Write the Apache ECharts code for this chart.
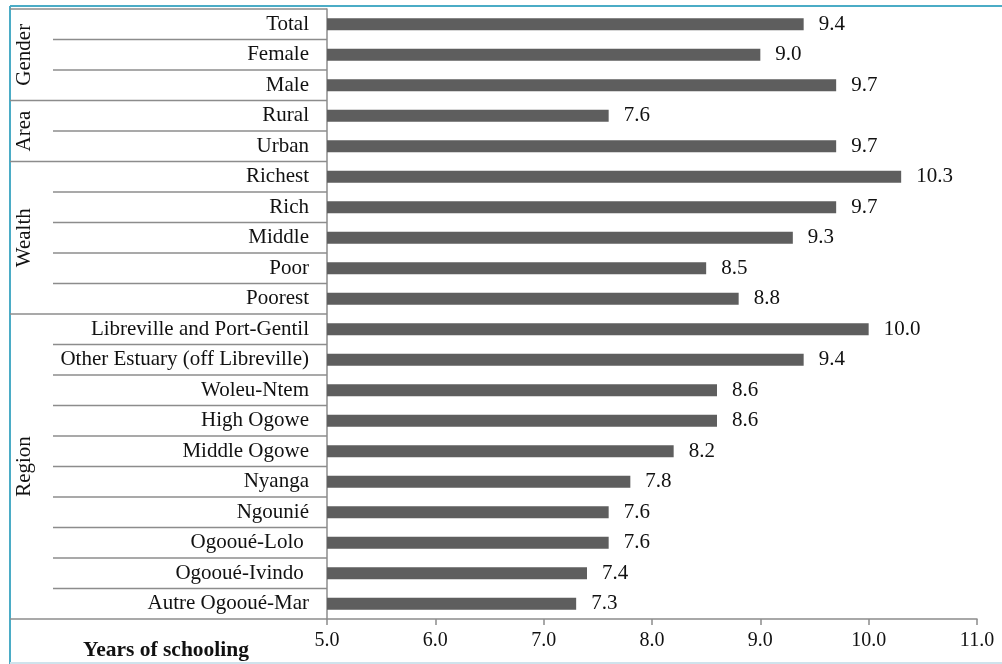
<!DOCTYPE html>
<html>
<head>
<meta charset="utf-8">
<style>
  html, body { margin: 0; padding: 0; background: #ffffff; }
  #chart { width: 1002px; height: 664px; }
</style>
<script src="https://cdn.jsdelivr.net/npm/echarts@6/dist/echarts.min.js"></script>
</head>
<body>
<div id="chart"></div>
<script>
// Average years of schooling by population group
const categories = [
  'Total', 'Female', 'Male',
  'Rural', 'Urban',
  'Richest', 'Rich', 'Middle', 'Poor', 'Poorest',
  'Libreville and Port-Gentil', 'Other Estuary (off Libreville)', 'Woleu-Ntem',
  'High Ogowe', 'Middle Ogowe', 'Nyanga', 'Ngounié', 'Ogooué-Lolo ',
  'Ogooué-Ivindo ', 'Autre Ogooué-Mar'
];
const years = [
  9.4, 9.0, 9.7,
  7.6, 9.7,
  10.3, 9.7, 9.3, 8.5, 8.8,
  10.0, 9.4, 8.6, 8.6, 8.2, 7.8, 7.6, 7.6, 7.4, 7.3
];
const groupNames = ['Gender', 'Area', 'Wealth', 'Region'];
const groupSizes = [3, 2, 5, 10];
const xMin = 5, xMax = 11, xStep = 1;
const axisTitle = 'Years of schooling';

const FONT = '"Liberation Serif", "Times New Roman", serif';
const GRID_GRAY = '#8c8c8c';
const OUTER_LEFT = 10;   // left edge of the group column
const INNER_LEFT = 53;   // left edge of the category column

// group start indices
const groupStarts = [];
let acc = 0;
groupSizes.forEach(n => { groupStarts.push(acc); acc += n; });

// one separator per band boundary (top of each row, plus the bottom edge)
const separatorData = [];
for (let i = 0; i <= categories.length; i++) {
  const isGroupEdge = i === categories.length || groupStarts.indexOf(i) >= 0;
  separatorData.push([xMin, Math.min(i, categories.length - 1), i === categories.length ? 1 : 0, isGroupEdge ? 1 : 0]);
}
const groupData = groupNames.map((g, k) => [xMin, groupStarts[k], groupStarts[k] + groupSizes[k] - 1, k]);

const chart = echarts.init(document.getElementById('chart'), null, { renderer: 'canvas' });

chart.setOption({
  animation: false,
  backgroundColor: '#ffffff',
  grid: { left: 327, right: 25, top: 9, bottom: 45, containLabel: false },
  xAxis: {
    type: 'value',
    min: xMin, max: xMax, interval: xStep,
    axisLine: { show: true, lineStyle: { color: GRID_GRAY, width: 1.5 } },
    axisTick: { show: true, length: 6, lineStyle: { color: GRID_GRAY, width: 1.5 } },
    splitLine: { show: false },
    axisLabel: {
      margin: 12,
      color: '#111111',
      fontFamily: FONT,
      fontSize: 20,
      formatter: v => v.toFixed(1)
    }
  },
  yAxis: {
    type: 'category',
    inverse: true,
    data: categories,
    axisLine: { show: true, lineStyle: { color: GRID_GRAY, width: 1.5 } },
    axisTick: { show: false },
    splitLine: { show: false },
    axisLabel: {
      margin: 18,
      color: '#111111',
      fontFamily: FONT,
      fontSize: 21
    }
  },
  graphic: [
    { type: 'line', shape: { x1: OUTER_LEFT, y1: 6, x2: OUTER_LEFT, y2: 664 }, style: { stroke: '#4bacc6', lineWidth: 2 } },
    { type: 'line', shape: { x1: OUTER_LEFT, y1: 6, x2: 1002, y2: 6 }, style: { stroke: '#4bacc6', lineWidth: 2 } },
    { type: 'line', shape: { x1: OUTER_LEFT, y1: 663, x2: 1002, y2: 663 }, style: { stroke: '#cfe3ec', lineWidth: 2 } },
    {
      type: 'text', x: 166, y: 650,
      style: {
        text: axisTitle, font: 'bold 21.5px ' + FONT, fill: '#111111',
        textAlign: 'center', textVerticalAlign: 'middle'
      }
    }
  ],
  series: [
    {
      type: 'bar',
      data: years,
      barWidth: 12,
      itemStyle: { color: '#5e5e5e' },
      label: {
        show: true,
        position: 'right',
        distance: 15,
        color: '#111111',
        fontFamily: FONT,
        fontSize: 21,
        formatter: p => p.value.toFixed(1)
      },
      z: 3
    },
    {
      // row and group separators in the label columns
      type: 'custom',
      data: separatorData,
      clip: false,
      silent: true,
      encode: { x: 0, y: 1 },
      renderItem: (params, api) => {
        const center = api.coord([api.value(0), api.value(1)]);
        const band = api.size([0, 1])[1];
        const y = api.value(2) ? center[1] + band / 2 : center[1] - band / 2;
        const x1 = api.value(3) ? OUTER_LEFT : INNER_LEFT;
        return {
          type: 'line',
          shape: { x1: x1, y1: y, x2: center[0], y2: y },
          style: { stroke: GRID_GRAY, lineWidth: 1.5 }
        };
      },
      z: 2
    },
    {
      // rotated group names
      type: 'custom',
      data: groupData,
      clip: false,
      silent: true,
      encode: { x: 0, y: 1 },
      renderItem: (params, api) => {
        const top = api.coord([api.value(0), api.value(1)]);
        const bottom = api.coord([api.value(0), api.value(2)]);
        const band = api.size([0, 1])[1];
        const yMid = ((top[1] - band / 2) + (bottom[1] + band / 2)) / 2;
        return {
          type: 'text',
          x: 24, y: yMid,
          rotation: Math.PI / 2,
          style: {
            text: groupNames[api.value(3)],
            font: '21px ' + FONT,
            fill: '#111111',
            textAlign: 'center',
            textVerticalAlign: 'middle'
          }
        };
      },
      z: 2
    }
  ]
});
</script>
</body>
</html>
